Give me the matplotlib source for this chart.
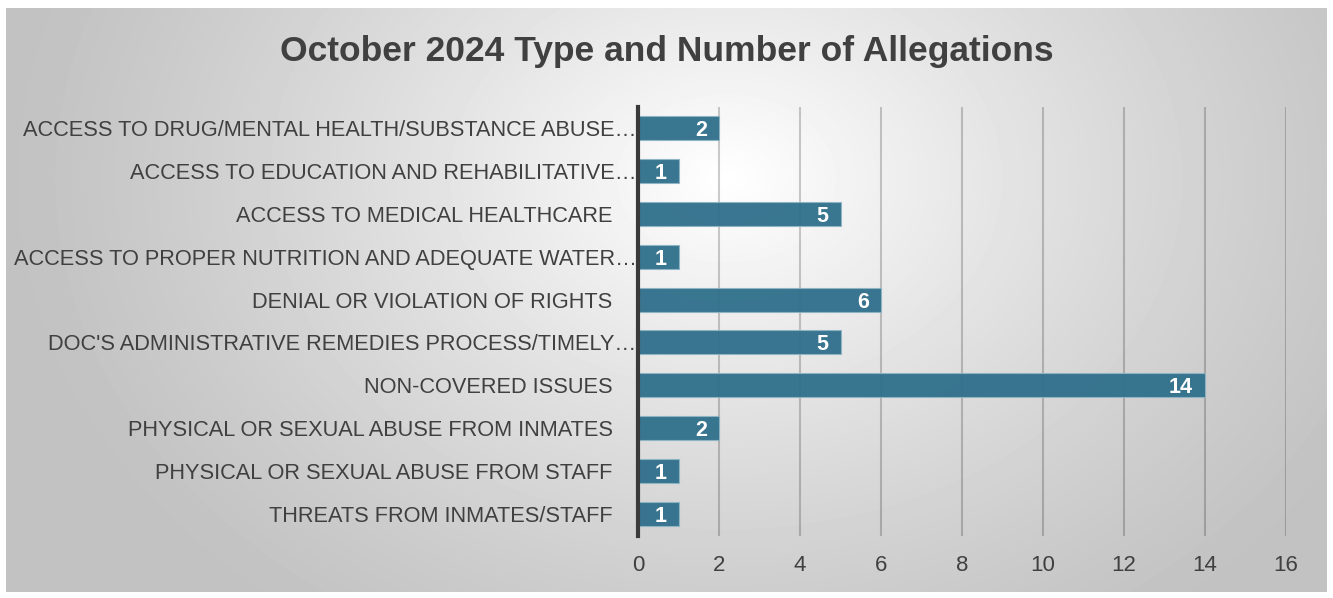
import numpy as np
import matplotlib

matplotlib.use("Agg")
import matplotlib.pyplot as plt

categories = [
    "ACCESS TO DRUG/MENTAL HEALTH/SUBSTANCE ABUSE…",
    "ACCESS TO EDUCATION AND REHABILITATIVE…",
    "ACCESS TO MEDICAL HEALTHCARE    ",
    "ACCESS TO PROPER NUTRITION AND ADEQUATE WATER…",
    "DENIAL OR VIOLATION OF RIGHTS    ",
    "DOC'S ADMINISTRATIVE REMEDIES PROCESS/TIMELY…",
    "NON-COVERED ISSUES    ",
    "PHYSICAL OR SEXUAL ABUSE FROM INMATES    ",
    "PHYSICAL OR SEXUAL ABUSE FROM STAFF    ",
    "THREATS FROM INMATES/STAFF    ",
]
counts = [2, 1, 5, 1, 6, 5, 14, 2, 1, 1]
x_ticks = [0, 2, 4, 6, 8, 10, 12, 14, 16]
title = "October 2024 Type and Number of Allegations"

W, H = 1333, 598
fig = plt.figure(figsize=(W / 100, H / 100), dpi=100)
fig.patch.set_facecolor("white")

# radial grey background of the chart area
bg = fig.add_axes([6 / W, 6 / H, (1327 - 6) / W, (591 - 7) / H])
yy, xx = np.mgrid[0:584, 0:1321]
dist = np.hypot((xx - 720) / 1.0, (yy - 170) * 1.3)
shade = np.clip(1 - dist / 720, 0, 1) ** 1.2
grey = 0.76 + 0.24 * shade
bg.imshow(grey, cmap="gray", vmin=0, vmax=1, aspect="auto", interpolation="bilinear")
bg.axis("off")

ax = fig.add_axes([638 / W, 1 - 535.5 / H, (1286 - 638) / W, (535.5 - 106.5) / H])
ax.patch.set_alpha(0)
font = "Liberation Sans"

y = np.arange(len(categories))
ax.barh(y, counts, height=0.56, color="#2f6f8b", alpha=0.95,
        edgecolor="#8fb4c4", linewidth=0.8, zorder=3)
for yi, v in zip(y, counts):
    ax.text(v - 0.3, yi, str(v), ha="right", va="center_baseline", color="white",
            fontsize=15.5, fontweight="bold", family=font, zorder=4)

ax.set_ylim(len(categories) - 0.5, -0.5)
ax.set_xlim(0, 16)
ax.set_xticks(x_ticks)
ax.set_yticks(y)
ax.set_yticklabels(categories, family=font, fontsize=15.7, color="#404040")
ax.tick_params(axis="y", length=0, pad=1)
ax.tick_params(axis="x", length=0, pad=14, labelsize=16, labelcolor="#404040")
for lbl in ax.get_xticklabels():
    lbl.set_family(font)
ax.grid(axis="x", color="black", alpha=0.2, linewidth=1.5, zorder=0)
for side in ["top", "right", "bottom"]:
    ax.spines[side].set_visible(False)
ax.spines["left"].set_color("#3a3a3a")
ax.spines["left"].set_linewidth(3)
ax.spines["left"].set_zorder(5)

fig.text(667 / W, 1 - 51 / H, title, ha="center", va="center", fontsize=25.5,
         fontweight="bold", color="#404040", family=font)

fig.savefig("out.png", dpi=100)
